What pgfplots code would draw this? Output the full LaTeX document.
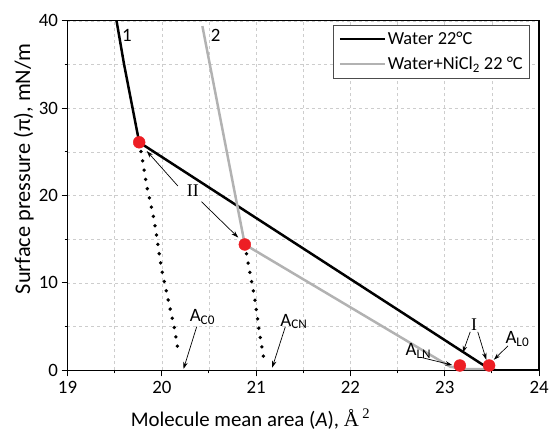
\documentclass[border=0pt]{standalone}
\usepackage{pgfplots}
\pgfplotsset{compat=1.18}
\usepackage{fontspec}
\setmainfont{Carlito}
\newfontfamily\serif{Liberation Serif}
\usetikzlibrary{arrows.meta}
\definecolor{lgray}{RGB}{178,178,178}
\definecolor{dotred}{RGB}{237,30,36}
\definecolor{gridc}{RGB}{205,205,205}

\begin{document}
\begin{tikzpicture}
\useasboundingbox (-68pt,-62pt) rectangle (487pt,373pt);
\begin{axis}[
    at={(0pt,0pt)}, anchor=south west,
    scale only axis,
    width=475pt, height=352pt,
    xmin=19, xmax=24, ymin=0, ymax=40,
    xtick={19,20,...,24}, ytick={0,10,...,40},
    minor x tick num=1, minor y tick num=1,
    grid=both,
    major grid style={gridc, dashed, line width=0.6pt},
    minor grid style={gridc, dashed, line width=0.6pt},
    tick align=outside,
    xtick pos=left, ytick pos=left,
    major tick length=6pt, minor tick length=3pt,
    tick style={black, line width=1pt},
    axis line style={black, line width=1.2pt},
    /pgf/number format/assume math mode=true,
    ticklabel style={font=\fontsize{19}{19}\selectfont},
    xticklabel style={yshift=-2pt},
    xlabel={Molecule mean area (\textit{A}), {\serif Å\,\textsuperscript{2}}},
    ylabel={Surface pressure (π), mN/m},
    xlabel style={at={(axis description cs:0.388,-0.139)}, anchor=center,
        font=\fontsize{21}{21}\selectfont},
    ylabel style={at={(axis description cs:-0.093,0.577)}, anchor=center,
        font=\fontsize{22.5}{22.5}\selectfont},
    legend style={at={(axis description cs:0.981,0.989)}, anchor=north east,
        draw=black!70, line width=0.8pt, font=\fontsize{18.5}{18.5}\selectfont,
        row sep=7pt, inner sep=5pt, cells={anchor=west}},
    legend image code/.code={\draw[#1] (0pt,0pt) -- (45pt,0pt);},
]
\addplot[black, line width=2.5pt] coordinates {
    (19.52,40) (19.60,35) (19.69,30) (19.76,26.1) (23.48,0.1) (23.55,0) (24,0)
};
\addlegendentry{Water 22°C}
\addplot[lgray, line width=2.5pt] coordinates {
    (20.43,39.4) (20.88,14.4) (23.06,0.4) (23.2,0.15) (23.5,0.15)
};
\addlegendentry{Water+NiCl\textsubscript{2} 22 °C}

\addplot[forget plot, black, line width=3.8pt, line cap=round, dash pattern=on 0pt off 9.5pt] coordinates {
    (19.76,26.1) (19.79,24.4) (19.84,21.1) (19.90,18.2) (19.93,16.4)
    (20.0,11.4) (20.13,5.0) (20.18,1.8)
};
\addplot[forget plot, black, line width=3.8pt, line cap=round, dash pattern=on 0pt off 9.5pt] coordinates {
    (20.88,14.4) (20.92,12.0) (20.99,7.9) (21.03,4.7) (21.08,1.4)
};

\addplot[forget plot, only marks, mark=*, mark size=6pt, dotred, mark options={draw=none, fill=dotred}] coordinates {
    (19.76,26.1) (20.88,14.4) (23.16,0.55) (23.47,0.55)
};

% annotations
\begin{scope}[font=\fontsize{19}{19}\selectfont]
\node at (axis cs:19.63,38.3) {1};
\node at (axis cs:20.57,38.3) {2};
\node[inner sep=0pt, font=\serif\fontsize{18}{18}\selectfont] at (axis cs:20.33,20.6) {II};
\node[inner sep=0pt, font=\serif\fontsize{18}{18}\selectfont] at (axis cs:23.31,5.2) {I};
\node at (axis cs:20.43,6.1) {A\textsubscript{C0}};
\node at (axis cs:21.40,5.6) {A\textsubscript{CN}};
\node at (axis cs:22.72,2.2) {A\textsubscript{LN}};
\node at (axis cs:23.77,3.6) {A\textsubscript{L0}};
\end{scope}
\begin{scope}[line width=0.7pt, -{Stealth[length=7pt,width=4.5pt]}]
\draw (axis cs:20.17,21.1) -- (axis cs:19.84,25.1);
\draw (axis cs:20.42,19.3) -- (axis cs:20.81,15.2);
\draw (axis cs:20.37,5.0) -- (axis cs:20.23,0.15);
\draw (axis cs:21.31,5.0) -- (axis cs:21.17,0.3);
\draw (axis cs:22.74,1.5) -- (axis cs:23.08,0.6);
\draw (axis cs:23.27,4.4) -- (axis cs:23.19,2.0);
\draw (axis cs:23.35,4.4) -- (axis cs:23.44,1.2);
\draw (axis cs:23.67,2.8) -- (axis cs:23.52,1.2);
\end{scope}
\end{axis}
\end{tikzpicture}
\end{document}
